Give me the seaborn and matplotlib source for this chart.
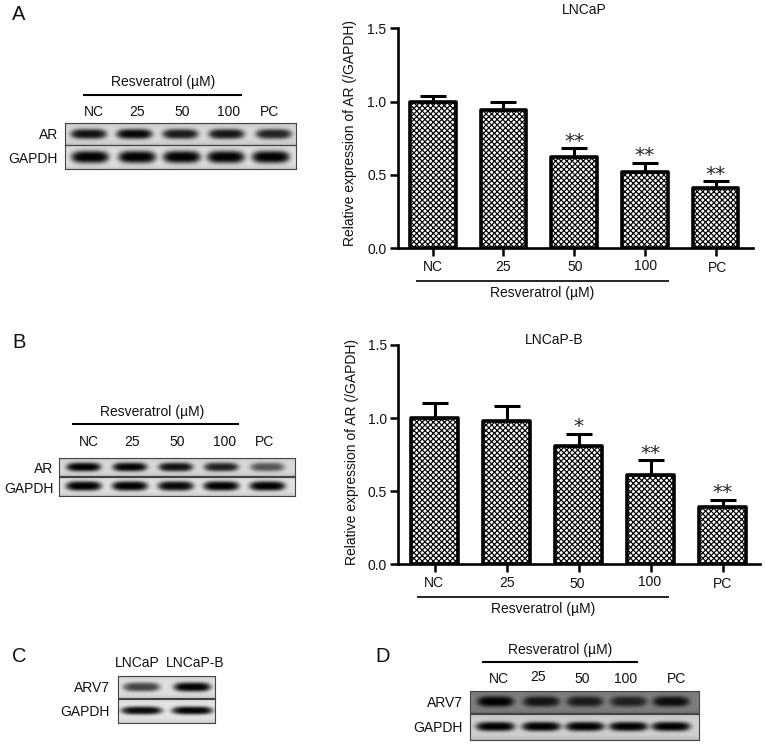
import numpy as np
import pandas as pd
import seaborn as sns
import matplotlib
matplotlib.use("Agg")
import matplotlib.pyplot as plt

W, H = 765, 746

sns.set_style("white")
plt.rcParams['font.family'] = ['Liberation Sans', 'DejaVu Sans']
plt.rcParams['hatch.linewidth'] = 0.85

categories = ['NC', '25', '50', '100', 'PC']
lncap_vals = [1.00, 0.94, 0.62, 0.52, 0.41]
lncap_err = [0.04, 0.06, 0.06, 0.06, 0.045]
lncap_stars = ['', '', '**', '**', '**']
lncapb_vals = [1.00, 0.98, 0.81, 0.61, 0.39]
lncapb_err = [0.10, 0.10, 0.08, 0.10, 0.05]
lncapb_stars = ['', '', '*', '**', '**']
y_ticks = [0.0, 0.5, 1.0, 1.5]
y_label = 'Relative expression of AR (/GAPDH)'
res_label = 'Resveratrol (\u00b5M)'
cell_lines = ['LNCaP', 'LNCaP-B']

# blot band strengths
blot_a_ar = [0.92, 0.97, 0.88, 0.90, 0.84]
blot_a_gapdh = [1.0, 1.0, 1.0, 1.0, 1.0]
blot_b_ar = [1.0, 0.98, 0.92, 0.85, 0.60]
blot_b_gapdh = [1.0, 1.0, 0.97, 1.0, 1.0]
blot_c_arv7 = [0.70, 1.0]
blot_c_gapdh = [0.95, 0.98]
blot_d_arv7 = [1.0, 0.85, 0.8, 0.75, 0.9]
blot_d_gapdh = [1.0, 1.0, 1.0, 1.0, 1.0]

FS = 10
fig = plt.figure(figsize=(W / 100, H / 100), dpi=100)


def axpx(x0, y0, x1, y1, **kw):
    """axes from pixel box (top-left origin)"""
    return fig.add_axes([x0 / W, 1 - y1 / H, (x1 - x0) / W, (y1 - y0) / H], **kw)


overlay = axpx(0, 0, W, H)
overlay.set_xlim(0, W)
overlay.set_ylim(H, 0)
overlay.axis('off')
overlay.set_zorder(5)
overlay.patch.set_alpha(0)


def txt(x, y, s, size=FS, ha='center', **kw):
    overlay.text(x, y, s, fontsize=size, ha=ha, va='center', color='#111111', **kw)


def hline(x0, x1, y, lw=1.5):
    overlay.plot([x0, x1], [y, y], color='black', lw=lw, solid_capstyle='butt')


def bar_panel(box, xlim, vals, errs, stars, title, title_xy, label_xy):
    ax = axpx(*box)
    df = pd.DataFrame({'dose': categories, 'value': vals})
    sns.barplot(data=df, x='dose', y='value', order=categories, ax=ax, errorbar=None,
                color='white', width=0.645, saturation=1, edgecolor='black',
                linewidth=2.6, hatch='xxxxxx')
    for p in ax.patches:
        p.set_joinstyle('round')
    ax.errorbar(range(5), vals, yerr=[np.zeros(5), errs], fmt='none', ecolor='black',
                elinewidth=2.2, capsize=9.6, capthick=2.2, zorder=1)
    ax.set_xlim(*xlim)
    ax.set_ylim(0, 1.5)
    ax.set_yticks(y_ticks)
    ax.set_yticklabels([f'{t:.1f}' for t in y_ticks], fontsize=FS, color='#111111')
    ax.set_xticks(range(5))
    ax.set_xticklabels([])
    ax.set_xlabel('')
    ax.set_ylabel(y_label, fontsize=FS, color='#111111')
    ax.yaxis.set_label_coords(*label_xy)
    sns.despine(ax=ax)
    for s in ('left', 'bottom'):
        ax.spines[s].set_linewidth(1.9)
        ax.spines[s].set_color('black')
    ax.tick_params(axis='both', length=6, width=1.8, color='black', left=True, bottom=True, pad=2)
    ax.patch.set_alpha(0)
    for i, s in enumerate(stars):
        if s:
            ax.text(i, vals[i] + errs[i] + 0.05, s, ha='center', va='center',
                    fontsize=14.5, color='#222222', family='DejaVu Sans')
    txt(*title_xy, title)
    return ax


bar_panel((397.7, 28.3, 752.7, 248), (-0.496, 4.525), lncap_vals, lncap_err, lncap_stars,
          'LNCaP', (584, 10.5), (-0.115, 0.523))
bar_panel((398.3, 345, 760, 564.3), (-0.505, 4.52), lncapb_vals, lncapb_err, lncapb_stars,
          'LNCaP-B', (554, 340), (-0.11, 0.51))

# x labels panel A
for x, y, s in zip([432.7, 503, 575, 645.7, 717.7], [267, 267, 267, 266, 268], categories):
    txt(x, y, s)
hline(416, 669, 280.7, 1.2)
txt(542.3, 292.7, res_label)

# x labels panel B
for x, y, s in zip([433.7, 507, 577, 650, 723], [583, 583, 584, 582, 584], categories):
    txt(x, y, s)
hline(417, 669, 596.7, 1.2)
txt(543, 609.3, res_label)


def blot(box, strengths, centers, bg=0.85, bw=0.07, bh=0.20):
    """Soft dark bands on a light strip, drawn as an image."""
    x0, y0, x1, y1 = box
    ax = axpx(*box)
    nx, ny = int((x1 - x0) * 2), int((y1 - y0) * 2)
    xx, yy = np.meshgrid(np.linspace(0, 1, nx), np.linspace(0, 1, ny))
    edge = 1 - 0.12 * (2 * np.abs(yy - 0.5)) ** 4
    img = bg * edge
    for c, s in zip(centers, strengths):
        r = (np.abs(xx - c) / bw) ** 4 + (np.abs(yy - 0.5) / bh) ** 2
        img = img * (1 - s * np.exp(-r ** 1.5))
    ax.imshow(np.clip(img, 0, 1), cmap='gray', vmin=0, vmax=1, aspect='auto',
              interpolation='bilinear', extent=(0, 1, 1, 0))
    ax.set_xticks([])
    ax.set_yticks([])
    for sp in ax.spines.values():
        sp.set_visible(True)
        sp.set_color('#444444')
        sp.set_linewidth(0.8)
    return ax


# Panel A blots
txt(19, 14, 'A', size=14.5)
txt(162.7, 81.7, res_label)
hline(83, 242, 95)
for x, s in zip([94, 136.7, 181.7, 229, 270], categories):
    txt(x, 112, s)
blot((65, 123, 296, 144.7), blot_a_ar, [0.102, 0.30, 0.50, 0.70, 0.905], bg=0.85, bw=0.078, bh=0.24)
blot((65, 145.3, 296, 169), blot_a_gapdh, [0.108, 0.312, 0.506, 0.697, 0.892], bg=0.88, bw=0.082, bh=0.27)
txt(58, 135, 'AR', ha='right')
txt(58, 159, 'GAPDH', ha='right')

# Panel B blots
txt(19, 342, 'B', size=14.5)
txt(152.3, 411.7, res_label)
hline(71.7, 239, 424)
for x, s in zip([89.3, 132, 177, 225, 265], categories):
    txt(x, 441.7, s)
cB = [0.104, 0.30, 0.495, 0.688, 0.884]
blot((59.3, 458.3, 294.7, 476), blot_b_ar, cB, bg=0.85, bw=0.073, bh=0.26)
blot((59.3, 476.8, 294.7, 496), blot_b_gapdh, cB, bg=0.88, bw=0.076, bh=0.25)
txt(53.3, 469, 'AR', ha='right')
txt(53.3, 489, 'GAPDH', ha='right')

# Panel C blots
txt(19, 657, 'C', size=14.5)
txt(137.7, 663, cell_lines[0])
txt(195, 663, cell_lines[1])
blot((117.5, 676, 215, 697.7), blot_c_arv7, [0.24, 0.76], bg=0.88, bw=0.19, bh=0.22)
blot((117.5, 698.5, 215, 723), blot_c_gapdh, [0.24, 0.76], bg=0.9, bw=0.21, bh=0.17)
txt(110, 688, 'ARV7', ha='right')
txt(110, 712, 'GAPDH', ha='right')

# Panel D blots
txt(383, 657, 'D', size=14.5)
txt(560.5, 650, res_label)
hline(482, 637.7, 662)
for x, y, s in zip([498.6, 538, 582, 626, 677], [679, 677, 679, 679, 679], categories):
    txt(x, y, s)
cD = [0.11, 0.31, 0.50, 0.69, 0.875]
blot((469.5, 690.7, 698.6, 713), blot_d_arv7, cD, bg=0.50, bw=0.08, bh=0.24)
blot((469.5, 714, 698.6, 740), blot_d_gapdh, cD, bg=0.82, bw=0.085, bh=0.18)
txt(463, 703, 'ARV7', ha='right')
txt(463, 728, 'GAPDH', ha='right')

fig.savefig('out.png', dpi=100, facecolor='white')
